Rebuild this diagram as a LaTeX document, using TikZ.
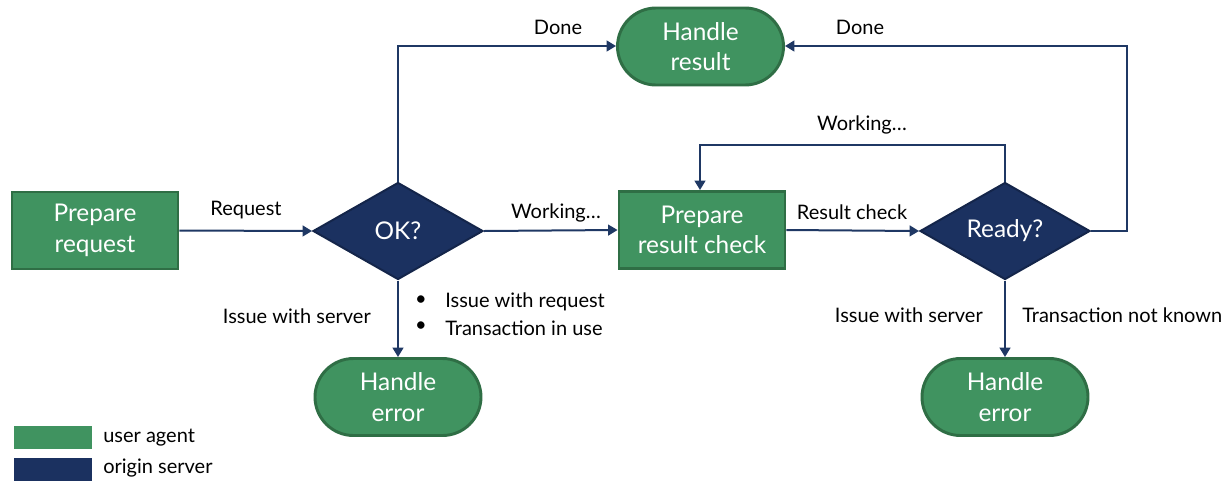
\documentclass[tikz,border=0pt]{standalone}
\usepackage{fontspec}
\setmainfont{Lato}
\usetikzlibrary{arrows.meta,shapes.geometric,shapes.misc}
\definecolor{uagreen}{HTML}{409360}
\definecolor{uaborder}{HTML}{2F6E45}
\definecolor{osnavy}{HTML}{1B3160}
\definecolor{osborder}{HTML}{14254A}
\definecolor{linenavy}{HTML}{1F3864}
\tikzset{
  px/.style={x=0.75pt,y=-0.75pt},
  procbox/.style={rectangle,fill=uagreen,draw=uaborder,line width=2.2pt,minimum width=166*0.75pt,minimum height=77*0.75pt,text=white,font=\fontsize{18.3}{23}\selectfont,align=center,inner sep=0pt},
  termbox/.style={rounded rectangle,fill=uagreen,draw=uaborder,line width=2.2pt,minimum width=166*0.75pt,minimum height=77*0.75pt,text=white,font=\fontsize{18.3}{23}\selectfont,align=center,inner sep=0pt},
  decbox/.style={diamond,fill=osnavy,draw=osborder,line width=1.5pt,minimum width=170*0.75pt,minimum height=97*0.75pt,aspect=1.75,text=white,font=\fontsize{18.3}{23}\selectfont,inner sep=0pt},
  conn/.style={draw=linenavy,line width=1.5pt,-{Triangle[length=7pt,width=8pt]}},
  lbl/.style={font=\fontsize{15}{17}\selectfont,text=black,inner sep=0pt},
}
\begin{document}
\begin{tikzpicture}[px]
\useasboundingbox (0,0) rectangle (1231,483);
\node[procbox] (prep) at (95,230.5) {Prepare\\request};
\node[decbox] (ok) at (398,231) {OK?};
\node[termbox] (hres) at (700.5,46.5) {Handle\\result};
\node[procbox] (prc) at (702,230) {Prepare\\result check};
\node[decbox] (ready) at (1005,231) {Ready?};
\node[termbox] (herr1) at (398,397) {Handle\\error};
\node[termbox] (herr2) at (1005,397) {Handle\\error};
\coordinate (okup) at (398,46);
\coordinate (rdtop) at (1005,145);
\coordinate (prctop) at (700,145);
\coordinate (rdright) at (1127,231);
\coordinate (rdcorner) at (1127,46);
\draw[conn] (prep.east) -- (ok.west);
\draw[conn] (ok.north) -- (okup) -- (hres.west |- okup);
\draw[conn] (ok.east) -- (prc.west);
\draw[conn] (prc.east) -- (ready.west);
\draw[conn] (ready.north) -- (rdtop) -- (prctop) -- (prctop |- prc.north);
\draw[conn] (ready.east) -- (rdright) -- (rdcorner) -- (hres.east |- rdcorner);
\draw[conn] (ok.south) -- (herr1.north);
\draw[conn] (ready.south) -- (herr2.north);
\node[lbl] (l1) at (246,210) {Request};
\node[lbl] (l2) at (558,27) {Done};
\node[lbl] (l3) at (556,213) {Working…};
\node[lbl] (l4) at (852,212) {Result check};
\node[lbl] (l5) at (862,125) {Working…};
\node[lbl] (l6) at (860,27) {Done};
\node[lbl,anchor=east] (l7) at (371,316) {Issue with server};
\node[lbl,anchor=west] (l8a) at (445,302) {Issue with request};
\node[lbl,anchor=west] (l8b) at (445,328) {Transaction in use};
\node[lbl] (b1) at (421,301) {•};
\node[lbl] (b2) at (421,327) {•};
\node[lbl,anchor=east] (l9) at (983,315) {Issue with server};
\node[lbl,anchor=west] (l10) at (1022,315) {Transaction not known};
\node[rectangle,fill=uagreen,minimum width=78*0.75pt,minimum height=23*0.75pt,inner sep=0pt] (lg1) at (53,437) {};
\node[rectangle,fill=osnavy,minimum width=78*0.75pt,minimum height=23*0.75pt,inner sep=0pt] (lg2) at (53,469) {};
\node[lbl,anchor=west] (lt1) at (103,438) {user agent};
\node[lbl,anchor=west] (lt2) at (103,468) {origin server};
\end{tikzpicture}
\end{document}
